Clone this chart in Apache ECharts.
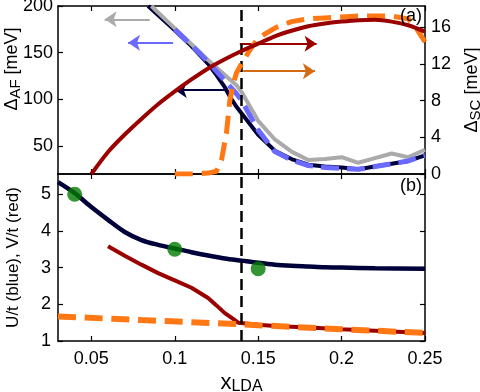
<!DOCTYPE html>
<html>
<head>
<meta charset="utf-8">
<script src="https://cdn.jsdelivr.net/npm/echarts@6/dist/echarts.min.js"></script>
<style>
  html, body { margin: 0; padding: 0; background: #fff; }
  #chart { width: 480px; height: 392px; }
</style>
</head>
<body>
<div id="chart"></div>
<script>
// panel (a): gaps, left axis Delta_AF, right axis Delta_SC (meV)
const grayX = [0.086, 0.09, 0.10, 0.11, 0.12, 0.13, 0.137, 0.14, 0.15, 0.16, 0.17, 0.18, 0.19, 0.20, 0.21, 0.22, 0.23, 0.24, 0.25];
const grayAF = [200, 193, 176, 159, 142, 126, 115, 108, 77, 57, 44, 35, 36, 38, 32, 37, 42, 38, 46];

const blueX = [0.10, 0.11, 0.12, 0.13, 0.137, 0.14, 0.15, 0.16, 0.17, 0.18, 0.19, 0.20, 0.21, 0.22, 0.23, 0.24, 0.25];
const blueAF = [175, 158, 140, 120, 106, 99, 67, 44, 35, 29, 27, 26, 25, 28, 31, 34, 40];

const navyX = [0.084, 0.10, 0.11, 0.12, 0.125, 0.13, 0.133, 0.137, 0.14, 0.15, 0.16, 0.17, 0.18, 0.19, 0.20, 0.21, 0.22, 0.23, 0.24, 0.25];
const navyAF = [200, 174, 157, 138, 126, 113, 103, 92, 85, 62, 45, 36, 30, 28, 27, 25, 28, 31, 34, 40];

const redX = [0.05, 0.06, 0.07, 0.08, 0.09, 0.10, 0.11, 0.12, 0.13, 0.14, 0.15, 0.16, 0.17, 0.18, 0.19, 0.20, 0.21, 0.22, 0.23, 0.24, 0.25];
const redSC = [0, 2.4, 4.3, 6.0, 7.6, 9.0, 10.3, 11.5, 12.5, 13.4, 14.2, 15.0, 15.6, 16.1, 16.4, 16.6, 16.75, 16.8, 16.6, 16.2, 15.5];

const orangeX = [0.10, 0.11, 0.12, 0.125, 0.128, 0.131, 0.133, 0.135, 0.137, 0.14, 0.145, 0.15, 0.16, 0.17, 0.18, 0.19, 0.20, 0.21, 0.22, 0.23, 0.24, 0.245, 0.25];
const orangeSC = [0, 0, 0.1, 0.3, 1.5, 4.5, 8.0, 9.8, 11.0, 12.0, 13.5, 14.8, 15.9, 16.6, 16.9, 17.0, 17.1, 17.2, 17.2, 17.2, 16.9, 15.8, 14.4];

// panel (b): U/t and V/t
const uX = [0.03, 0.04, 0.05, 0.06, 0.07, 0.08, 0.09, 0.10, 0.11, 0.12, 0.13, 0.14, 0.15, 0.16, 0.17, 0.18, 0.19, 0.20, 0.22, 0.25];
const uT = [5.33, 5.03, 4.65, 4.3, 3.97, 3.75, 3.62, 3.52, 3.42, 3.33, 3.25, 3.19, 3.13, 3.08, 3.05, 3.03, 3.01, 3.0, 2.98, 2.97];

const dotX = [0.04, 0.10, 0.15];
const dotU = [5.0, 3.5, 2.97];

const vX = [0.06, 0.07, 0.08, 0.09, 0.10, 0.11, 0.12, 0.125, 0.13, 0.135, 0.138, 0.15, 0.16, 0.18, 0.20, 0.22, 0.25];
const vT = [3.58, 3.32, 3.08, 2.85, 2.65, 2.45, 2.17, 1.97, 1.76, 1.6, 1.5, 1.44, 1.41, 1.37, 1.32, 1.28, 1.22];

const vdX = [0.03, 0.08, 0.138, 0.15, 0.20, 0.25];
const vdT = [1.67, 1.57, 1.46, 1.43, 1.32, 1.22];

// tick values
const xTicks = [0.05, 0.1, 0.15, 0.2, 0.25];
const afTicks = [50, 100, 150, 200];
const scTicks = [0, 4, 8, 12, 16];
const utTicks = [1, 2, 3, 4, 5];

const xLine = 0.138; // vertical dashed marker

// annotation arrows: [y, xFrom, xTo]
const arrowGray = [185.7, 0.085, 0.058];
const arrowBlue = [160.7, 0.099, 0.072];
const arrowNavy = [110, 0.131, 0.100];
const arrowRed = [14.2, 0.139, 0.185];
const arrowOrange = [11.2, 0.141, 0.184];

const FONT = "'Liberation Sans', Arial, Helvetica, sans-serif";
const C = {
  red: "#9b0000",
  navy: "#00003a",
  blue: "#6a6aff",
  gray: "#aaaaaa",
  orange: "#ff7814",
  orangeArrow: "#d46a12",
  green: "#007a00",
};

function pairs(xs, ys) {
  return xs.map((x, i) => [x, ys[i]]);
}

function arrow(a, color) {
  return {
    silent: true,
    symbol: ["none", "arrow"],
    symbolSize: 12,
    label: { show: false },
    emphasis: { disabled: true },
    lineStyle: { type: "solid", width: 2, color: color },
    itemStyle: { color: color },
    data: [[{ coord: [a[1], a[0]] }, { coord: [a[2], a[0]] }]],
  };
}

function vline() {
  return {
    silent: true,
    symbol: "none",
    label: { show: false },
    emphasis: { disabled: true },
    lineStyle: { type: [11, 6], width: 2.5, color: "#000" },
    data: [{ xAxis: xLine }],
  };
}

const axisLine = { show: true, onZero: false, lineStyle: { color: "#000", width: 1.5 } };
const labelStyle = { color: "#000", fontSize: 18, fontFamily: FONT };
function ticks(vals) {
  return { show: true, inside: true, length: 5, customValues: vals, lineStyle: { color: "#000", width: 1.2 } };
}

function xAx(grid, pos, showLabel) {
  return {
    type: "value", gridIndex: grid, position: pos,
    min: 0.03, max: 0.25,
    axisLine, axisTick: ticks(xTicks), splitLine: { show: false },
    axisLabel: Object.assign({ show: showLabel, margin: 9, customValues: xTicks }, labelStyle),
  };
}

const rich = {
  d: { fontSize: 18, fontFamily: FONT, color: "#000", lineHeight: 22 },
  s: { fontSize: 15, fontFamily: FONT, color: "#000", lineHeight: 10, verticalAlign: "bottom" },
  x: { fontSize: 22, fontFamily: FONT, color: "#000", lineHeight: 24 },
  xs: { fontSize: 16, fontFamily: FONT, color: "#000", lineHeight: 12, verticalAlign: "bottom" },
};

const line = (name, xi, yi, data, color, width, type, z, smooth) => ({
  name, type: "line", xAxisIndex: xi, yAxisIndex: yi,
  data, showSymbol: false, symbol: "none", z: z, smooth: smooth || false,
  lineStyle: { color, width, type: type || "solid", cap: "butt" },
  emphasis: { disabled: true },
});

const chart = echarts.init(document.getElementById("chart"), null, { renderer: "canvas" });

const option = {
  animation: false,
  backgroundColor: "#fff",
  grid: [
    { left: 58, right: 55, top: 6, height: 168, outerBoundsMode: "none", containLabel: false },
    { left: 58, right: 55, top: 174, height: 167, outerBoundsMode: "none", containLabel: false },
  ],
  xAxis: [
    xAx(0, "bottom", false),
    xAx(0, "top", false),
    Object.assign(xAx(1, "bottom", true), {
      name: "{x|x}{xs|LDA}", nameLocation: "middle", nameGap: 30, nameMoveOverlap: false,
      nameTextStyle: { rich },
    }),
    xAx(1, "top", false),
  ],
  yAxis: [
    {
      type: "value", gridIndex: 0, position: "left",
      min: 20, max: 200,
      axisLine, axisTick: ticks(afTicks), splitLine: { show: false },
      axisLabel: Object.assign({ margin: 5, customValues: afTicks }, labelStyle),
      name: "{d|Δ}{s|AF}{d| [meV]}", nameLocation: "middle", nameGap: 35, nameRotate: 90,
      nameMoveOverlap: false,
      nameTextStyle: { rich, padding: [0, 0, 0, 42] },
    },
    {
      type: "value", gridIndex: 0, position: "right",
      min: 0, max: 18.3,
      axisLine, axisTick: ticks(scTicks), splitLine: { show: false },
      axisLabel: Object.assign({ margin: 6, customValues: scTicks }, labelStyle),
      name: "{d|Δ}{s|SC}{d| [meV]}", nameLocation: "middle", nameGap: 36, nameRotate: 90,
      nameMoveOverlap: false,
      nameTextStyle: { rich },
    },
    {
      type: "value", gridIndex: 1, position: "left",
      min: 1, max: 5.55,
      axisLine, axisTick: ticks(utTicks), splitLine: { show: false },
      axisLabel: Object.assign({ margin: 7, customValues: utTicks }, labelStyle),
      name: "U/t (blue), V/t (red)", nameLocation: "middle", nameGap: 36, nameRotate: 90,
      nameMoveOverlap: false,
      nameTextStyle: { color: "#000", fontSize: 17, fontFamily: FONT },
    },
    {
      type: "value", gridIndex: 1, position: "right",
      min: 1, max: 5.55,
      axisLine, axisTick: ticks(utTicks), splitLine: { show: false },
      axisLabel: { show: false },
    },
  ],
  graphic: [
    { type: "text", right: 58, top: 7, style: { text: "(a)", fontSize: 18, fontFamily: FONT, fill: "#000" }, z: 100 },
    { type: "text", right: 58, top: 177, style: { text: "(b)", fontSize: 18, fontFamily: FONT, fill: "#000" }, z: 100 },
  ],
  series: [
    // panel (a)
    Object.assign(line("navy", 0, 0, pairs(navyX, navyAF), C.navy, 4, "solid", 2), { markLine: arrow(arrowNavy, C.navy) }),
    Object.assign(line("gray", 0, 0, pairs(grayX, grayAF), C.gray, 4, "solid", 3), { markLine: arrow(arrowGray, C.gray) }),
    Object.assign(line("blue", 0, 0, pairs(blueX, blueAF), C.blue, 5, [18, 8], 4), { markLine: arrow(arrowBlue, C.blue) }),
    Object.assign(line("orange", 0, 1, pairs(orangeX, orangeSC), C.orange, 5, [18, 9], 5), { markLine: arrow(arrowOrange, C.orangeArrow) }),
    Object.assign(line("red", 0, 1, pairs(redX, redSC), C.red, 4, "solid", 6, 0.3), { markLine: arrow(arrowRed, C.red) }),
    Object.assign(line("marker a", 0, 0, [], "#000", 0, "solid", 7), { markLine: vline() }),
    // panel (b)
    line("U/t", 2, 2, pairs(uX, uT), C.navy, 4.5, "solid", 3, 0.3),
    line("V/t", 2, 2, pairs(vX, vT), C.red, 4, "solid", 3),
    line("V/t dashed", 2, 2, pairs(vdX, vdT), C.orange, 6, [18, 8.7], 4),
    {
      name: "points", type: "scatter", xAxisIndex: 2, yAxisIndex: 2,
      data: pairs(dotX, dotU), symbolSize: 15, z: 6,
      itemStyle: { color: C.green }, emphasis: { disabled: true },
    },
    Object.assign(line("marker b", 2, 2, [], "#000", 0, "solid", 7), { markLine: vline() }),
  ],
};

chart.setOption(option);
</script>
</body>
</html>
